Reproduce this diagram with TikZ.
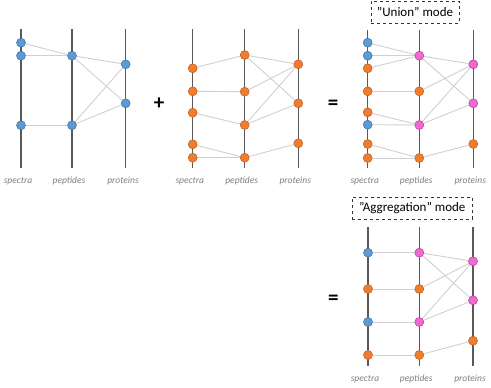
\documentclass[tikz,border=0pt]{standalone}
\usepackage{fontspec}
\setmainfont{Carlito}
\usetikzlibrary{backgrounds}
\definecolor{myblue}{HTML}{5B9BD5}
\definecolor{mybluedk}{HTML}{41719C}
\definecolor{myorange}{HTML}{ED7D31}
\definecolor{myorangedk}{HTML}{C55A11}
\definecolor{mypink}{HTML}{EE6ACE}
\definecolor{mypinkdk}{HTML}{B8389A}
\definecolor{axisgray}{HTML}{595959}
\definecolor{linkgray}{HTML}{D0D0D0}
\definecolor{labgray}{HTML}{7F7F7F}
\tikzset{
  axisline/.style={draw=axisgray, line width=1.5pt},
  lnk/.style={draw=linkgray, line width=0.9pt},
  dot/.style={circle, inner sep=0pt, minimum size=9pt, line width=0.5pt},
  bl/.style={dot, fill=myblue, draw=mybluedk},
  og/.style={dot, fill=myorange, draw=myorangedk},
  pk/.style={dot, fill=mypink, draw=mypinkdk},
  axlab/.style={font=\fontsize{9.5}{11}\selectfont\itshape, text=labgray, inner sep=0pt},
  op/.style={font=\fontsize{21}{24}\selectfont\bfseries, inner sep=0pt},
  modebox/.style={draw=black!80, dashed, line width=0.7pt, font=\fontsize{13}{15}\selectfont, inner sep=0pt, minimum height=22pt}
}
\begin{document}
\begin{tikzpicture}[x=1pt,y=-1pt]
\useasboundingbox (0,0) rectangle (491,388);
% ---------- Panel A ----------
\coordinate (As-t) at (21,29); \coordinate (As-b) at (21,168);
\coordinate (Ap-t) at (72,29); \coordinate (Ap-b) at (72,168);
\coordinate (Ar-t) at (125.7,29); \coordinate (Ar-b) at (125.7,168);
\draw[axisline] (As-t) -- (As-b); \draw[axisline] (Ap-t) -- (Ap-b); \draw[axisline] (Ar-t) -- (Ar-b);
\node[bl] (As1) at (21,42.7) {}; \node[bl] (As2) at (21,55.7) {}; \node[bl] (As3) at (21,125.3) {};
\node[bl] (Ap1) at (72,55.7) {}; \node[bl] (Ap2) at (72,125.3) {};
\node[bl] (Ar1) at (125.7,64.3) {}; \node[bl] (Ar2) at (125.7,103.3) {};
\begin{scope}[on background layer]
\draw[lnk] (As1) -- (Ap1); \draw[lnk] (As2) -- (Ap1); \draw[lnk] (As3) -- (Ap2);
\draw[lnk] (Ap1) -- (Ar1); \draw[lnk] (Ap1) -- (Ar2); \draw[lnk] (Ap2) -- (Ar1); \draw[lnk] (Ap2) -- (Ar2);
\end{scope}
\node[axlab] (Al1) at (18,181) {spectra};
\node[axlab] (Al2) at (69,181) {peptides};
\node[axlab] (Al3) at (123,181) {proteins};
\node[op] (plus) at (159,104) {+};
% ---------- Panel B ----------
\coordinate (Bs-t) at (192.7,29); \coordinate (Bs-b) at (192.7,168);
\coordinate (Bp-t) at (244.7,29); \coordinate (Bp-b) at (244.7,168);
\coordinate (Br-t) at (298.3,29); \coordinate (Br-b) at (298.3,168);
\draw[axisline] (Bs-t) -- (Bs-b); \draw[axisline] (Bp-t) -- (Bp-b); \draw[axisline] (Br-t) -- (Br-b);
\node[og] (Bs1) at (192.7,68.3) {}; \node[og] (Bs2) at (192.7,91.3) {}; \node[og] (Bs3) at (192.7,112.7) {};
\node[og] (Bs4) at (192.7,144.3) {}; \node[og] (Bs5) at (192.7,157.7) {};
\node[og] (Bp1) at (244.7,55) {}; \node[og] (Bp2) at (244.7,91.7) {}; \node[og] (Bp3) at (244.7,125) {}; \node[og] (Bp4) at (244.7,157.7) {};
\node[og] (Br1) at (298.3,64.3) {}; \node[og] (Br2) at (298.3,103.3) {}; \node[og] (Br3) at (298.3,143.3) {};
\begin{scope}[on background layer]
\draw[lnk] (Bs1) -- (Bp1); \draw[lnk] (Bs2) -- (Bp2); \draw[lnk] (Bs3) -- (Bp3); \draw[lnk] (Bs4) -- (Bp4); \draw[lnk] (Bs5) -- (Bp4);
\draw[lnk] (Bp1) -- (Br1); \draw[lnk] (Bp1) -- (Br2); \draw[lnk] (Bp2) -- (Br1); \draw[lnk] (Bp3) -- (Br1); \draw[lnk] (Bp3) -- (Br2); \draw[lnk] (Bp4) -- (Br3);
\end{scope}
\node[axlab] (Bl1) at (189.7,181) {spectra};
\node[axlab] (Bl2) at (241.7,181) {peptides};
\node[axlab] (Bl3) at (295.3,181) {proteins};
\node[op] (eq1) at (333,105) {=};
% ---------- Panel C ----------
\coordinate (Cs-t) at (367.7,30); \coordinate (Cs-b) at (367.7,168);
\coordinate (Cp-t) at (419.3,30); \coordinate (Cp-b) at (419.3,168);
\coordinate (Cr-t) at (473.3,30); \coordinate (Cr-b) at (473.3,168);
\draw[axisline] (Cs-t) -- (Cs-b); \draw[axisline] (Cp-t) -- (Cp-b); \draw[axisline] (Cr-t) -- (Cr-b);
\node[bl] (Cs1) at (367.7,42.7) {}; \node[bl] (Cs2) at (367.7,55.7) {}; \node[og] (Cs3) at (367.7,68.3) {};
\node[og] (Cs4) at (367.7,91.3) {}; \node[og] (Cs5) at (367.7,112.3) {}; \node[bl] (Cs6) at (367.7,124.7) {};
\node[og] (Cs7) at (367.7,144) {}; \node[og] (Cs8) at (367.7,158) {};
\node[pk] (Cp1) at (419.3,55.7) {}; \node[og] (Cp2) at (419.3,91.3) {}; \node[pk] (Cp3) at (419.3,125) {}; \node[og] (Cp4) at (419.3,158) {};
\node[pk] (Cr1) at (473.3,64.3) {}; \node[pk] (Cr2) at (473.3,103.3) {}; \node[og] (Cr3) at (473.3,144) {};
\begin{scope}[on background layer]
\draw[lnk] (Cs1) -- (Cp1); \draw[lnk] (Cs2) -- (Cp1); \draw[lnk] (Cs3) -- (Cp1); \draw[lnk] (Cs4) -- (Cp2);
\draw[lnk] (Cs5) -- (Cp3); \draw[lnk] (Cs6) -- (Cp3); \draw[lnk] (Cs7) -- (Cp4); \draw[lnk] (Cs8) -- (Cp4);
\draw[lnk] (Cp1) -- (Cr1); \draw[lnk] (Cp1) -- (Cr2); \draw[lnk] (Cp2) -- (Cr1); \draw[lnk] (Cp3) -- (Cr1); \draw[lnk] (Cp3) -- (Cr2); \draw[lnk] (Cp4) -- (Cr3);
\end{scope}
\node[axlab] (Cl1) at (364.7,181) {spectra};
\node[axlab] (Cl2) at (416.3,181) {peptides};
\node[axlab] (Cl3) at (470.3,181) {proteins};
\node[modebox, minimum width=88pt] (union) at (415,12) {"Union" mode};
% ---------- Panel D ----------
\coordinate (Ds-t) at (368,226.7); \coordinate (Ds-b) at (368,365.7);
\coordinate (Dp-t) at (419.3,226.7); \coordinate (Dp-b) at (419.3,365.7);
\coordinate (Dr-t) at (473,226.7); \coordinate (Dr-b) at (473,365.7);
\draw[axisline] (Ds-t) -- (Ds-b); \draw[axisline] (Dp-t) -- (Dp-b); \draw[axisline] (Dr-t) -- (Dr-b);
\node[bl] (Ds1) at (368,252.7) {}; \node[og] (Ds2) at (368,289) {}; \node[bl] (Ds3) at (368,322) {}; \node[og] (Ds4) at (368,355) {};
\node[pk] (Dp1) at (419.3,252.7) {}; \node[og] (Dp2) at (419.3,289) {}; \node[pk] (Dp3) at (419.3,322) {}; \node[og] (Dp4) at (419.3,355) {};
\node[pk] (Dr1) at (473,261.3) {}; \node[pk] (Dr2) at (473,300.3) {}; \node[og] (Dr3) at (473,340.7) {};
\begin{scope}[on background layer]
\draw[lnk] (Ds1) -- (Dp1); \draw[lnk] (Ds2) -- (Dp2); \draw[lnk] (Ds3) -- (Dp3); \draw[lnk] (Ds4) -- (Dp4);
\draw[lnk] (Dp1) -- (Dr1); \draw[lnk] (Dp1) -- (Dr2); \draw[lnk] (Dp2) -- (Dr1); \draw[lnk] (Dp3) -- (Dr1); \draw[lnk] (Dp3) -- (Dr2); \draw[lnk] (Dp4) -- (Dr3);
\end{scope}
\node[axlab] (Dl1) at (365,379) {spectra};
\node[axlab] (Dl2) at (416.3,379) {peptides};
\node[axlab] (Dl3) at (470,379) {proteins};
\node[modebox, minimum width=120pt] (aggr) at (412.3,208.3) {"Aggregation" mode};
\node[op] (eq2) at (333.3,300) {=};
\end{tikzpicture}
\end{document}
